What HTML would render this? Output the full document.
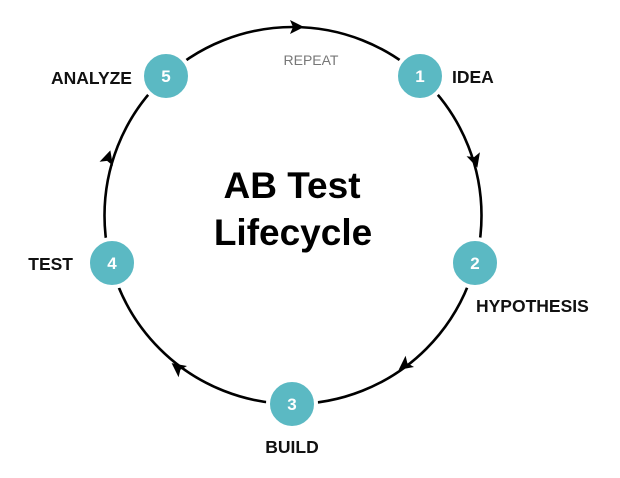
<!DOCTYPE html>
<html><head><style>body{margin:0;background:#fff}</style></head><body>
<svg width="620" height="473" viewBox="0 0 620 473" xmlns="http://www.w3.org/2000/svg" font-family="Liberation Sans, sans-serif">
<circle cx="293" cy="215.5" r="188.5" fill="none" stroke="#000" stroke-width="2.6"/>
<g fill="#000">
<polygon points="8,0 -6,-7 -3,0 -6,7" transform="translate(296,27) rotate(0)"/>
<polygon points="8,0 -6,-7 -3,0 -6,7" transform="translate(475,160) rotate(73)"/>
<polygon points="8,0 -6,-7 -3,0 -6,7" transform="translate(405,365) rotate(143)"/>
<polygon points="8,0 -6,-7 -3,0 -6,7" transform="translate(178,368) rotate(217)"/>
<polygon points="8,0 -6,-7 -3,0 -6,7" transform="translate(108,158) rotate(287)"/>
</g>
<g fill="#5bb9c3" stroke="#fff" stroke-width="4">
<circle cx="420" cy="76" r="24"/>
<circle cx="475" cy="263" r="24"/>
<circle cx="292" cy="404" r="24"/>
<circle cx="112" cy="263" r="24"/>
<circle cx="166" cy="76" r="24"/>
</g>
<g fill="#fff" font-weight="bold" font-size="17" text-anchor="middle">
<text x="420" y="82">1</text>
<text x="475" y="269">2</text>
<text x="292" y="410">3</text>
<text x="112" y="269">4</text>
<text x="166" y="82">5</text>
</g>
<g fill="#111" font-weight="bold" font-size="17.5">
<text x="452" y="83">IDEA</text>
<text x="476" y="312">HYPOTHESIS</text>
<text x="292" y="453" text-anchor="middle">BUILD</text>
<text x="73" y="270" text-anchor="end">TEST</text>
<text x="132" y="84" text-anchor="end">ANALYZE</text>
</g>
<text x="311" y="65" text-anchor="middle" font-size="14" fill="#777">REPEAT</text>
<g fill="#000" font-weight="bold" font-size="37" text-anchor="middle">
<text x="292" y="198">AB Test</text>
<text x="293" y="245">Lifecycle</text>
</g>
</svg>
</body></html>
